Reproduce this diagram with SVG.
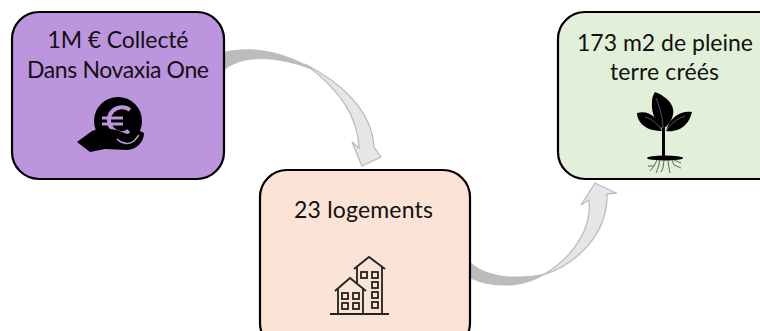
<svg xmlns="http://www.w3.org/2000/svg" width="760" height="331" viewBox="0 0 760 331">
<style>
.box{stroke:#000;stroke-width:2.2}
.t{font-family:Lato,"Liberation Sans",sans-serif;font-size:23px;fill:#111;text-anchor:middle}
.dark{fill:#bcbcbc;stroke:#b5b5b5;stroke-width:.8}
.light{fill:#e6e6e6;stroke:#bcbcbc;stroke-width:1.3;stroke-linejoin:miter}
.bl{fill:none;stroke:#222;stroke-width:1.8}
</style>
<rect width="760" height="331" fill="#fff"/>
<g id="connectors">
<path class="dark" d="M225 52C255 46 285 52 316 71C293 61 265 56 245 60C237 62 230 65 225 69Z"/>
<path class="light" d="M305 64C340 82 372 110 374 147L381 157L362 166L352 142L359 148C358 115 338 88 305 64Z"/>
<path class="dark" d="M471 263C480 272 500 278 517 277C527 277 536 276 545 274C532 282 516 286 503 285C492 285 481 283 471 278Z"/>
<path class="light" d="M543 275C575 265 608 235 607 194L616 193L595 183L581 205L589 200C592 225 577 255 543 275Z"/>
</g>
<g id="node-collecte">
<rect class="box" x="12" y="12" width="212" height="167" rx="27" fill="#bd94de"/>
<text class="t" x="118" y="48" textLength="141">1M € Collecté</text>
<text class="t" x="118" y="78" textLength="182">Dans Novaxia One</text>
<circle cx="118" cy="121" r="24" fill="#000"/>
<path d="M130 110A13 13 0 1 0 129 131" fill="none" stroke="#bd94de" stroke-width="4"/>
<path d="M102 118H123M102 124H123" stroke="#bd94de" stroke-width="2.8"/>
<path d="M77 142L92 131C101 127 112 128 122 132L132 136L140 131L144 133C144 142 137 149 128 150L105 149L90 152Z" fill="#000"/>
<path d="M117 139C122 144 129 145 134 141L139 135" fill="none" stroke="#bd94de" stroke-width="1.6"/>
</g>
<g id="node-logements">
<rect class="box" x="260" y="170" width="210" height="180" rx="27" fill="#fbe3d5"/>
<text class="t" x="363.500" y="218" textLength="139">23 logements</text>
<path class="bl" d="M330 314H389M338 314V288M363 314V288M382 314V267M357 267V283"/>
<path class="bl" d="M354 269L369 257L385 269"/>
<path class="bl" d="M335 291L350 278L366 291"/>
<g class="bl">
<rect x="361" y="272" width="6" height="6"/><rect x="372" y="272" width="6" height="6"/>
<rect x="372" y="282" width="6" height="6"/><rect x="372" y="292" width="6" height="6"/><rect x="372" y="302" width="6" height="6"/>
<rect x="342" y="293" width="6" height="6"/><rect x="353" y="293" width="6" height="6"/>
<rect x="342" y="303" width="6" height="6"/><rect x="353" y="303" width="6" height="6"/>
</g>
</g>
<g id="node-pleine-terre">
<rect class="box" x="558" y="12" width="230" height="167" rx="27" fill="#e2efd9"/>
<text class="t" x="665" y="51" textLength="176">173 m2 de pleine</text>
<text class="t" x="664.500" y="80" textLength="109">terre créés</text>
<path d="M655 92C668 97 677 107 672 118C670 124 666 127 663 129C655 122 651 112 652 102C652 98 653 95 655 92Z" fill="#000"/>
<path d="M637 113C648 110 658 116 662 131C654 131 645 129 640 122C638 119 637 116 637 113Z" fill="#000"/>
<path d="M692 112C682 110 670 116 666 131C673 132 681 130 686 124C689 121 691 116 692 112Z" fill="#000"/>
<path d="M656 98C660 108 663 118 663 129M645 117C652 119 658 124 662 131M685 116C677 119 670 124 666 131" fill="none" stroke="#777" stroke-width=".7"/>
<path d="M662 128L665 128L665 157L662 157Z" fill="#000"/>
<ellipse cx="665" cy="158" rx="18" ry="2.6" fill="#000"/>
<path d="M657 160L654 166L648 166M654 166L650 171M660 160L658 168L656 173M664 160L663 168L661 172M668 160L669 168L670 173M672 160L674 165L681 168M674 160L681 163" stroke="#555" stroke-width=".9" fill="none"/>
</g>
</svg>
